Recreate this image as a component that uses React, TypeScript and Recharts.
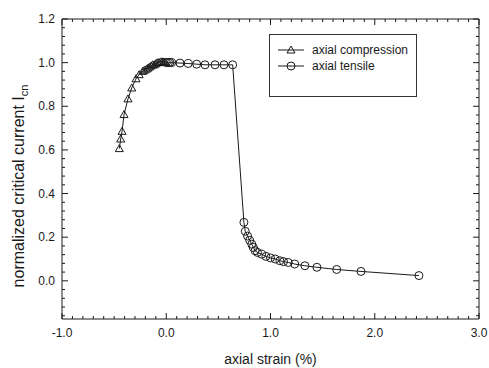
import { ScatterChart, Scatter, XAxis, YAxis, Label } from 'recharts'

const FONT = '"Liberation Sans", Arial, Helvetica, sans-serif'
const INK = '#1a1a1a'

// axial compression (strain %, normalized Ic)
const compStrain = [
  -0.45, -0.437, -0.424, -0.405, -0.367, -0.331, -0.29, -0.26, -0.226, -0.21, -0.19, -0.175, -0.16,
  -0.145, -0.13, -0.115, -0.1, -0.085, -0.07, -0.055, -0.04, -0.025, -0.01,
]
const compIc = [
  0.606, 0.65, 0.685, 0.762, 0.834, 0.884, 0.926, 0.945, 0.96, 0.965, 0.97, 0.975, 0.98, 0.985, 0.99,
  0.99, 0.995, 1.0, 1.0, 1.003, 1.004, 1.003, 1.002,
]

// axial tensile
const tensStrain = [
  0.0, 0.02, 0.035, 0.052, 0.132, 0.211, 0.292, 0.372, 0.468, 0.554, 0.637, 0.745, 0.758, 0.78, 0.8,
  0.82, 0.836, 0.852, 0.875, 0.915, 0.956, 1.0, 1.045, 1.09, 1.125, 1.17, 1.232, 1.33, 1.445, 1.635,
  1.868, 2.424,
]
const tensIc = [
  1.0, 1.0, 1.0, 1.0, 0.998, 0.996, 0.993, 0.99, 0.99, 0.99, 0.99, 0.268, 0.227, 0.205, 0.186, 0.168,
  0.153, 0.138, 0.13, 0.122, 0.112, 0.105, 0.1, 0.092, 0.088, 0.084, 0.077, 0.069, 0.062, 0.052,
  0.043, 0.024,
]

const xMajor = [-1, 0, 1, 2, 3]
const xLabels = ['-1.0', '0.0', '1.0', '2.0', '3.0']
const yMajor = [0, 0.2, 0.4, 0.6, 0.8, 1.0, 1.2]
const yLabels = ['0.0', '0.2', '0.4', '0.6', '0.8', '1.0', '1.2']

const X_DOMAIN: [number, number] = [-1, 3]
const Y_DOMAIN: [number, number] = [-0.175, 1.2]

const r3 = (v: number) => Math.round(v * 1000) / 1000

const xTicks: number[] = []
for (let i = 0; i <= 40; i++) xTicks.push(r3(-1 + i * 0.1))
const yTicks: number[] = []
for (let i = -4; i <= 30; i++) yTicks.push(r3(i * 0.04))

const compData = compStrain.map((x, i) => ({ x, y: compIc[i] }))
const tensData = tensStrain.map((x, i) => ({ x, y: tensIc[i] }))

const majorIndex = (list: number[], v: number) => list.findIndex((m) => Math.abs(m - v) < 1e-6)

function BottomTick(props: any) {
  const x = Number(props.x)
  const y = Number(props.y)
  const idx = majorIndex(xMajor, props.payload.value)
  const len = idx >= 0 ? 6 : 3
  return (
    <g>
      <path d={`M${x},${y}V${y - len}`} stroke={INK} fill="none" />
      {idx >= 0 && (
        <text x={x} y={y + 18} textAnchor="middle" fontSize={12} fontFamily={FONT} fill={INK}>
          {xLabels[idx]}
        </text>
      )}
    </g>
  )
}

function TopTick(props: any) {
  const x = Number(props.x)
  const y = Number(props.y)
  const len = majorIndex(xMajor, props.payload.value) >= 0 ? 6 : 3
  return <path d={`M${x},${y}V${y + len}`} stroke={INK} fill="none" />
}

function LeftTick(props: any) {
  const x = Number(props.x)
  const y = Number(props.y)
  const idx = majorIndex(yMajor, props.payload.value)
  const len = idx >= 0 ? 6 : 3
  return (
    <g>
      <path d={`M${x},${y}H${x + len}`} stroke={INK} fill="none" />
      {idx >= 0 && (
        <text x={x - 7} y={y + 4} textAnchor="end" fontSize={12} fontFamily={FONT} fill={INK}>
          {yLabels[idx]}
        </text>
      )}
    </g>
  )
}

function RightTick(props: any) {
  const x = Number(props.x)
  const y = Number(props.y)
  const len = majorIndex(yMajor, props.payload.value) >= 0 ? 6 : 3
  return <path d={`M${x},${y}H${x - len}`} stroke={INK} fill="none" />
}

function Triangle(props: any) {
  const { cx, cy } = props
  if (cx == null || cy == null) return null
  return (
    <path
      d={`M${cx},${cy - 4} L${cx + 4},${cy + 3} L${cx - 4},${cy + 3} Z`}
      fill="none"
      stroke={INK}
      strokeWidth={1}
    />
  )
}

function Circle(props: any) {
  const { cx, cy } = props
  if (cx == null || cy == null) return null
  return <circle cx={cx} cy={cy} r={4} fill="none" stroke={INK} strokeWidth={1} />
}

function YTitle() {
  return (
    <text
      transform="translate(24,186) rotate(-90)"
      textAnchor="middle"
      fontSize={16}
      fontFamily={FONT}
      fill={INK}
    >
      normalized critical current I
      <tspan dy={4} fontSize={11}>
        cn
      </tspan>
    </text>
  )
}

function LegendBox() {
  return (
    <svg width={148} height={63} style={{ position: 'absolute', left: 269, top: 34 }}>
      <rect x={0.5} y={0.5} width={147} height={62} fill="#fff" stroke="#333" />
      <line x1={9} x2={35} y1={16} y2={16} stroke={INK} />
      <Triangle cx={22} cy={16} />
      <text x={43} y={20} fontSize={12} fontFamily={FONT} fill={INK}>
        axial compression
      </text>
      <line x1={9} x2={35} y1={32} y2={32} stroke={INK} />
      <Circle cx={22} cy={32} />
      <text x={43} y={36} fontSize={12} fontFamily={FONT} fill={INK}>
        axial tensile
      </text>
    </svg>
  )
}

export default function App() {
  return (
    <div style={{ position: 'absolute', left: 0, top: 0, width: 489, height: 368, background: '#fff' }}>
      <ScatterChart width={489} height={368} margin={{ top: 18, right: 9, bottom: 0, left: 0 }}>
        <XAxis
          xAxisId="b"
          type="number"
          dataKey="x"
          domain={X_DOMAIN}
          allowDataOverflow
          ticks={xTicks}
          interval={0}
          height={49}
          tickSize={0}
          tickMargin={0}
          tickLine={false}
          tick={BottomTick}
          axisLine={{ stroke: INK }}
        >
          <Label
            value="axial strain (%)"
            position="insideBottom"
            offset={4}
            fontSize={14}
            fontFamily={FONT}
            fill={INK}
          />
        </XAxis>
        <XAxis
          xAxisId="t"
          orientation="top"
          type="number"
          dataKey="x"
          domain={X_DOMAIN}
          allowDataOverflow
          ticks={xTicks}
          interval={0}
          height={1}
          tickSize={0}
          tickMargin={0}
          tickLine={false}
          tick={TopTick}
          axisLine={{ stroke: INK }}
        />
        <YAxis
          yAxisId="l"
          type="number"
          dataKey="y"
          domain={Y_DOMAIN}
          allowDataOverflow
          ticks={yTicks}
          interval={0}
          width={62}
          tickSize={0}
          tickMargin={0}
          tickLine={false}
          tick={LeftTick}
          axisLine={{ stroke: INK }}
        >
          <Label content={<YTitle />} />
        </YAxis>
        <YAxis
          yAxisId="r"
          orientation="right"
          type="number"
          dataKey="y"
          domain={Y_DOMAIN}
          allowDataOverflow
          ticks={yTicks}
          interval={0}
          width={1}
          tickSize={0}
          tickMargin={0}
          tickLine={false}
          tick={RightTick}
          axisLine={{ stroke: INK }}
        />
        <Scatter
          name="frame"
          xAxisId="t"
          yAxisId="r"
          data={[]}
          shape={() => null}
          isAnimationActive={false}
        />
        <Scatter
          name="axial compression"
          xAxisId="b"
          yAxisId="l"
          data={compData}
          line={{ stroke: INK, strokeWidth: 1 }}
          lineType="joint"
          shape={<Triangle />}
          isAnimationActive={false}
        />
        <Scatter
          name="axial tensile"
          xAxisId="b"
          yAxisId="l"
          data={tensData}
          line={{ stroke: INK, strokeWidth: 1 }}
          lineType="joint"
          shape={<Circle />}
          isAnimationActive={false}
        />
      </ScatterChart>
      <LegendBox />
    </div>
  )
}
